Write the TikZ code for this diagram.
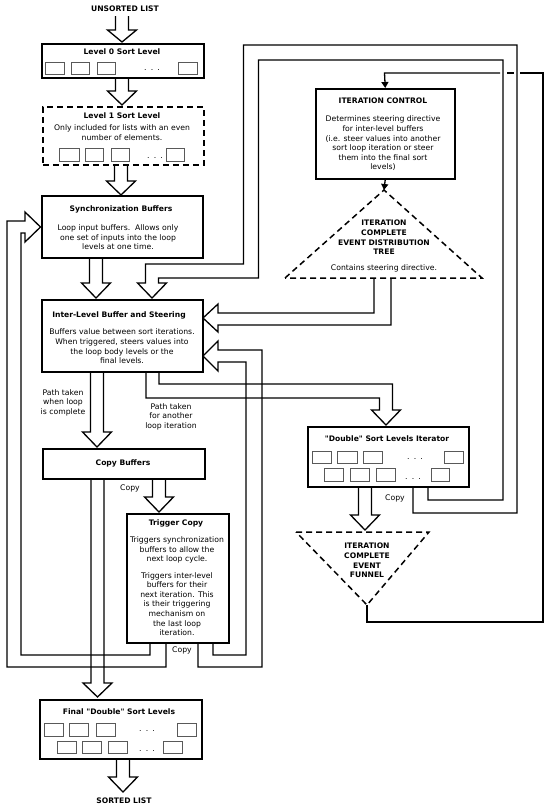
\documentclass[tikz,border=0pt]{standalone}
\usepackage{fontspec}
\newfontfamily\dvsans{DejaVu Sans}
\usetikzlibrary{arrows.meta}
\tikzset{
  box/.style={draw, line width=1.5pt, inner sep=0pt, anchor=north west},
  band/.style={draw, line width=1.3pt, line join=miter},
  cell/.style={draw=black!65, line width=0.7pt},
  ttl/.style={font=\dvsans\fontsize{7.6}{9.6}\selectfont\bfseries, align=center, inner sep=0pt},
  txt/.style={font=\dvsans\fontsize{7.7}{9.6}\selectfont, align=center, inner sep=0pt},
  dotrow/.style={font=\dvsans\fontsize{7.7}{8}\selectfont, anchor=base, inner sep=0pt},
  dsh/.style={dash pattern=on 6pt off 4pt, line width=1.5pt},
  tiparrow/.style={-{Triangle[length=6pt,width=7pt]}, line width=1.3pt},
}
\newcommand\dnarrow[4]{%
  \draw[band] (#1-6.5,#2) -- (#1-6.5,#3) -- (#1-14.5,#3) -- (#1,#4) -- (#1+14.5,#3) -- (#1+6.5,#3) -- (#1+6.5,#2);}
\newcommand\dotstext{.\hspace{4.2pt}.\hspace{4.2pt}.}
\begin{document}
\begin{tikzpicture}[x=1pt,y=-1pt]
\useasboundingbox (0,0) rectangle (550,811);
\fill[white] (0,0) rectangle (550,811);

% ---------- boxes ----------
\node[box, minimum width=162pt, minimum height=34pt] (lvl0) at (41,43) {};
\node[box, dsh, minimum width=161pt, minimum height=58pt] (lvl1) at (42,106) {};
\node[box, minimum width=161pt, minimum height=62pt] (sync) at (41,195) {};
\node[box, minimum width=161pt, minimum height=72pt] (inter) at (41,299) {};
\node[box, minimum width=162pt, minimum height=30pt] (copyb) at (42,448) {};
\node[box, minimum width=102pt, minimum height=129pt] (trig) at (126,513) {};
\node[box, minimum width=162pt, minimum height=59pt] (final) at (39,699) {};
\node[box, minimum width=139pt, minimum height=90pt] (itctl) at (315,88) {};
\node[box, minimum width=161pt, minimum height=60pt] (iter) at (307,426) {};

% triangles
\coordinate (treeapex) at (384,190);
\coordinate (treeL) at (285,278);
\coordinate (treeR) at (482,278);
\draw[dsh] (treeL) -- (treeapex) -- (treeR) -- cycle;
\coordinate (funL) at (296,532);
\coordinate (funR) at (429,532);
\coordinate (funtip) at (367,605);
\draw[dsh] (funL) -- (funR) -- (funtip) -- cycle;

% ---------- texts ----------
\node[ttl] (tu) at (125,9) {UNSORTED LIST};
\node[ttl] (t0) at (122,52) {Level 0 Sort Level};
\node[ttl] (t1) at (122,116) {Level 1 Sort Level};
\node[txt] (d1) at (122,132.5) {Only included for lists with an even\\number of elements.};
\node[ttl] (ts) at (121,209) {Synchronization Buffers};
\node[txt] (ds) at (118,237.5) {Loop input buffers.\ \ Allows only\\one set of inputs into the loop\\levels at one time.};
\node[ttl] (ti) at (119,315) {Inter-Level Buffer and Steering};
\node[txt] (di) at (122,346.5) {Buffers value between sort iterations.\\When triggered, steers values into\\the loop body levels or the\\final levels.};
\node[txt] (p1) at (63,402.5) {Path taken\\when loop\\is complete};
\node[txt] (p2) at (171,416.5) {Path taken\\for another\\loop iteration};
\node[ttl] (tc) at (123,463) {Copy Buffers};
\node[txt] (c1) at (130,488) {Copy};
\node[ttl] (tt) at (176,523) {Trigger Copy};
\node[txt] (dt1) at (177,550) {Triggers synchronization\\buffers to allow the\\next loop cycle.};
\node[txt] (dt2) at (177,604) {Triggers inter-level\\buffers for their\\next iteration. This\\is their triggering\\mechanism on\\the last loop\\iteration.};
\node[txt] (c2) at (182,650) {Copy};
\node[ttl] (tf) at (119,712) {Final "Double" Sort Levels};
\node[ttl] (tso) at (124,801) {SORTED LIST};
\node[ttl] (tic) at (383,101) {ITERATION CONTROL};
\node[txt] (dic) at (383,143.5) {Determines steering directive\\for inter-level buffers\\(i.e. steer values into another\\sort loop iteration or steer\\them into the final sort\\levels)};
\node[ttl] (ttr) at (384,237.5) {ITERATION\\COMPLETE\\EVENT DISTRIBUTION\\TREE};
\node[txt] (dtr) at (384,268) {Contains steering directive.};
\node[ttl] (tit) at (387,439) {"Double" Sort Levels Iterator};
\node[ttl] (tfu) at (367,560.5) {ITERATION\\COMPLETE\\EVENT\\FUNNEL};
\node[txt] (c3) at (395,498) {Copy};

% ---------- cells ----------
\draw[cell] (45,62) rectangle (64,74) (71,62) rectangle (89,74) (97,62) rectangle (115,74) (178,62) rectangle (197,74);
\node[dotrow] (dots0) at (152,70) {\dotstext};
\draw[cell] (59,148) rectangle (79,161) (85,148) rectangle (103,161) (111,148) rectangle (129,161) (166,148) rectangle (184,161);
\node[dotrow] (dots1) at (155,158) {\dotstext};
\draw[cell] (312,451) rectangle (331,463) (337,451) rectangle (357,463) (363,451) rectangle (382,463) (444,451) rectangle (463,463);
\node[dotrow] (dotsi1) at (415,459) {\dotstext};
\draw[cell] (324,468) rectangle (343,481) (350,468) rectangle (369,481) (376,468) rectangle (395,481) (431,468) rectangle (449,481);
\node[dotrow] (dotsi2) at (413,479) {\dotstext};
\draw[cell] (44,723) rectangle (63,736) (69,723) rectangle (88,736) (96,723) rectangle (115,736) (177,723) rectangle (196,736);
\node[dotrow] (dotsf1) at (147,731) {\dotstext};
\draw[cell] (57,741) rectangle (76,753) (82,741) rectangle (101,753) (108,741) rectangle (127,753) (163,741) rectangle (182,753);
\node[dotrow] (dotsf2) at (147,751) {\dotstext};

% ---------- block arrows ----------
\dnarrow{122}{16}{30}{42}
\dnarrow{122}{77}{91}{105}
\dnarrow{121}{164}{181}{195}
\dnarrow{96}{257}{283}{298}
\dnarrow{97}{371}{432}{447}
\dnarrow{159}{478}{497}{512}
\dnarrow{97.5}{478}{683}{697}
\dnarrow{123}{758}{777}{792}
\dnarrow{365}{486}{515}{530}

% iterator -> around the top -> inter-level top
\draw[band] (413,486) -- (413,513) -- (517,513) -- (517,45) -- (243.5,45) -- (243.5,264)
  -- (145.5,264) -- (145.5,283) -- (137.5,283) -- (152,298) -- (166.5,283) -- (158.5,283)
  -- (158.5,278) -- (258.5,278) -- (258.5,60) -- (503,60) -- (503,500) -- (428,500) -- (428,486);

% inter-level -> iterator
\draw[band] (146,371) -- (146,398) -- (379.5,398) -- (379.5,410) -- (371.5,410) -- (386,425)
  -- (400.5,410) -- (392.5,410) -- (392.5,384) -- (159,384) -- (159,371);

% trigger copy -> synchronization buffers
\draw[band] (166,642) -- (166,667) -- (7,667) -- (7,221) -- (25,221) -- (25,212) -- (40.5,227)
  -- (25,242) -- (25,233) -- (21,233) -- (21,655) -- (150,655) -- (150,642);

% trigger copy -> inter-level (lower)
\draw[band] (198,642) -- (198,667) -- (262,667) -- (262,350) -- (218,350) -- (218,341) -- (203,356)
  -- (218,371) -- (218,362) -- (246,362) -- (246,655) -- (213,655) -- (213,642);

% tree -> inter-level (upper)
\draw[band] (374,278) -- (374,313) -- (218,313) -- (218,304) -- (203,318) -- (218,332)
  -- (218,325) -- (391,325) -- (391,278);

% funnel -> iteration control
\draw[band] (funtip) -- (367,622) -- (543,622) -- (543,73) -- (520,73);
\draw[band] (513.5,73) -- (506.5,73);
\draw[tiparrow] (500,73) -- (384.5,73) -- (itctl.north);
% iteration control -> tree
\draw[tiparrow] (itctl.south) -- (treeapex);
\end{tikzpicture}
\end{document}
